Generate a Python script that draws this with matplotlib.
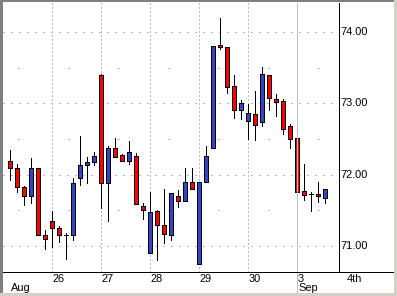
import matplotlib
matplotlib.use("Agg")
import matplotlib.pyplot as plt
from matplotlib.lines import Line2D
from matplotlib.patches import Rectangle

# ---- data ----
opens = [72.19, 72.09, 71.83, 71.70, 72.09, 71.15, 71.35, 71.25, 71.15, 71.15,
         71.95, 72.13, 72.175, 73.40, 71.89, 72.37, 72.27, 72.19, 72.26, 71.557,
         70.895, 71.485, 71.29, 71.15, 71.70, 71.627, 71.894, 70.743, 71.894, 72.37,
         73.82, 73.79, 73.24, 72.905, 72.75, 72.85, 72.736, 73.396, 73.06, 73.03,
         72.68, 72.51, 71.772, 71.734, 71.73, 71.667]
highs = [72.35, 72.15, 71.84, 72.23, 72.09, 71.22, 71.49, 71.28, 71.18, 71.95,
         72.54, 72.25, 72.32, 73.41, 72.40, 72.51, 72.29, 72.47, 72.30, 71.60,
         71.76, 71.505, 71.80, 71.75, 71.786, 72.095, 72.095, 71.894, 72.40, 73.80,
         74.205, 73.79, 73.40, 73.05, 72.993, 73.18, 73.509, 73.40, 73.13, 73.06,
         72.717, 72.51, 72.15, 71.754, 71.898, 71.80]
lows = [71.93, 71.76, 71.57, 71.60, 71.15, 70.96, 70.99, 71.05, 70.82, 71.08,
        71.85, 71.88, 72.13, 71.53, 71.355, 72.25, 72.19, 72.15, 71.585, 71.38,
        70.895, 70.81, 71.035, 71.09, 71.55, 71.627, 71.796, 70.743, 71.894, 72.37,
        73.76, 73.14, 72.80, 72.78, 72.495, 72.484, 72.68, 72.905, 72.82, 72.568,
        72.38, 71.69, 71.646, 71.49, 71.62, 71.60]
closes = [72.10, 71.83, 71.70, 72.09, 71.15, 71.10, 71.25, 71.15, 71.15, 71.88,
          72.13, 72.175, 72.26, 71.89, 72.37, 72.25, 72.19, 72.32, 71.585, 71.51,
          71.48, 71.29, 71.165, 71.737, 71.627, 71.894, 71.796, 71.894, 72.26, 73.80,
          73.79, 73.236, 72.905, 73.003, 72.863, 72.694, 73.41, 73.073, 73.017, 72.64,
          72.498, 71.755, 71.71, 71.734, 71.698, 71.796]

day_labels = ["26", "27", "28", "29", "30", "3", "4th"]
day_index = [6, 13, 20, 27, 34, 41, 48]
month_labels = ["Aug", "Sep"]
month_index = [0, 41]
price_ticks = [71.0, 72.0, 73.0, 74.0]

W, H = 397, 296
UP = "#3344cc"
DOWN = "#ff0000"
GRID = "#b8b8b8"
FONT = "Liberation Sans"
FS = 11

fig = plt.figure(figsize=(W / 72, H / 72), dpi=72, facecolor="white")

def fx(x):
    return x / W

def fy(y):
    return 1 - y / H

# axes: x from px 3 to 339, y from px 3 to 272
ax = fig.add_axes([fx(3), fy(272), fx(339) - fx(3), fy(3) - fy(272)])
ax.set_facecolor("white")
ax.set_xlim(-1, 47)
ax.set_ylim(70.635, 74.41)
for s in ["left", "top", "bottom"]:
    ax.spines[s].set_visible(False)
ax.spines["right"].set_color("black")
ax.spines["right"].set_linewidth(1)
ax.set_xticks([])
ax.set_yticks([])

# horizontal grid: dense dots at whole units, sparse at half units
for p in price_ticks:
    ax.axhline(p, color=GRID, lw=1, linestyle=(0, (1, 6)), antialiased=False, zorder=0)
for p in [70.5 + i for i in range(5)]:
    ax.axhline(p, color=GRID, lw=1, linestyle=(35, (1, 48)), antialiased=False, zorder=0)

# vertical day lines
for d in day_index:
    if d == 41:
        continue
    if d < 47:
        ax.axvline(d, color=GRID, lw=1, linestyle=(0, (1, 2)), antialiased=False, zorder=0)

# month boundary solid line through label area
mx = 10 + 7 * 41
fig.add_artist(Line2D([fx(mx), fx(mx)], [fy(3), fy(293)], color="#c0c0c0", lw=1,
                      antialiased=False, zorder=0.5))

# candles
n = len(opens)
xs = list(range(n))
ax.vlines(xs, lows, highs, color="black", lw=1, antialiased=False, zorder=2)
for i in xs:
    o, c = opens[i], closes[i]
    if abs(c - o) < 1e-9:
        ax.hlines(o, i - 0.32, i + 0.32, color="black", lw=1, antialiased=False, zorder=3)
    else:
        col = UP if c > o else DOWN
        ax.bar(i, abs(c - o), bottom=min(o, c), width=0.6, color=col,
               edgecolor="black", linewidth=1, antialiased=False, zorder=3)

# price labels on the right
for p in price_ticks:
    ax.text(47.25, p, f"{p:.2f}", ha="left", va="center", fontsize=FS,
            family=FONT, color="black", clip_on=False)

# bottom axis line, extends to right border
fig.add_artist(Line2D([fx(3), fx(394)], [fy(272), fy(272)], color="black", lw=1,
                      antialiased=False, zorder=3))

# day labels
for lab, d in zip(day_labels, day_index):
    x = 10 + 7 * d
    fig.text(fx(x + 0.5), fy(279), lab, ha="left", va="center", fontsize=FS,
             family=FONT, color="black")
for lab, d in zip(month_labels, month_index):
    x = 10 + 7 * d
    fig.text(fx(x + 1), fy(288), lab, ha="left", va="center", fontsize=FS,
             family=FONT, color="black")

# sunken window border
fig.add_artist(Rectangle((0, fy(2)), 1, 2 / H, transform=fig.transFigure,
                         color="#808080", lw=0, antialiased=False, zorder=5))
fig.add_artist(Rectangle((0, 0), 2.5 / W, 1, transform=fig.transFigure,
                         color="#808080", lw=0, antialiased=False, zorder=5))
fig.add_artist(Rectangle((fx(394), 0), 3 / W, 1, transform=fig.transFigure,
                         color="#d4d0c8", lw=0, antialiased=False, zorder=5))
fig.add_artist(Rectangle((0, 0), 1, 3 / H, transform=fig.transFigure,
                         color="#d4d0c8", lw=0, antialiased=False, zorder=5))

fig.savefig("out.png", dpi=72, facecolor="white")
